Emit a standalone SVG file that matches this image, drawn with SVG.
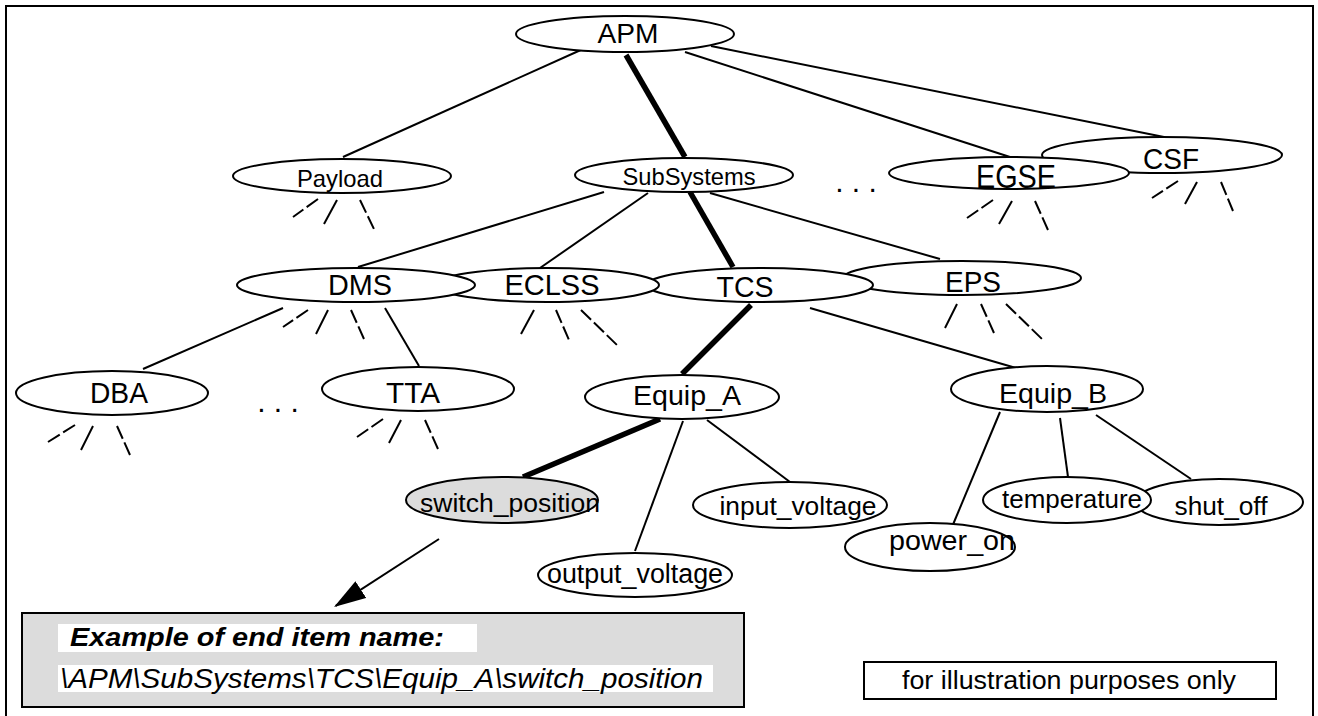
<svg xmlns="http://www.w3.org/2000/svg" width="1318" height="716" viewBox="0 0 1318 716">
<style>
.n ellipse{fill:#fff;stroke:#000;stroke-width:2}
.n ellipse.sel{fill:#dcdcdc}
text{font-family:"Liberation Sans",Arial,Helvetica,sans-serif;fill:#000}
.t{text-anchor:middle}
.c line{stroke:#000;stroke-width:2;fill:none}
.c line.k{stroke-width:5.5}
.c line.d{stroke-dasharray:14 4}
.dots{text-anchor:middle;font-size:30px}
</style>
<defs>
<marker id="ah" viewBox="0 0 32 20" refX="30" refY="10" markerWidth="32" markerHeight="20" markerUnits="userSpaceOnUse" orient="auto">
<path d="M0,0 L32,10 L0,20 z" fill="#000"/>
</marker>
</defs>
<rect width="1318" height="716" fill="#fff"/>
<path d="M6,720 V6 H1313 V720" fill="none" stroke="#000" stroke-width="2"/>

<g id="connectors" class="c">
<line x1="583" y1="49" x2="343" y2="157"/>
<line class="k" x1="626" y1="55" x2="685" y2="157"/>
<line x1="685" y1="52" x2="1010" y2="157"/>
<line x1="711" y1="46" x2="1164" y2="137"/>
<line x1="604" y1="192" x2="358" y2="267"/>
<line x1="648" y1="193" x2="540" y2="268"/>
<line class="k" x1="690" y1="192" x2="733" y2="267"/>
<line x1="710" y1="193" x2="940" y2="259"/>
<line x1="283" y1="308" x2="143" y2="369"/>
<line x1="385" y1="308" x2="419" y2="366"/>
<line class="k" x1="751" y1="305" x2="682" y2="374"/>
<line x1="810" y1="308" x2="1016" y2="368"/>
<line class="k" x1="660" y1="419" x2="523" y2="477"/>
<line x1="683" y1="421" x2="635" y2="551"/>
<line x1="707" y1="420" x2="790" y2="482"/>
<line x1="1000" y1="412" x2="952" y2="527"/>
<line x1="1060" y1="418" x2="1068" y2="477"/>
<line x1="1096" y1="415" x2="1191" y2="479"/>
<!-- stubs -->
<line class="d" x1="318" y1="199" x2="293" y2="217"/>
<line x1="337" y1="200" x2="324" y2="224"/>
<line class="d" x1="360" y1="200" x2="374" y2="229"/>
<line class="d" x1="993" y1="200" x2="967" y2="218"/>
<line x1="1012" y1="201" x2="999" y2="224"/>
<line class="d" x1="1035" y1="201" x2="1048" y2="230"/>
<line class="d" x1="1178" y1="181" x2="1152" y2="198"/>
<line x1="1197" y1="182" x2="1185" y2="204"/>
<line class="d" x1="1221" y1="182" x2="1233" y2="211"/>
<line class="d" x1="308" y1="310" x2="283" y2="327"/>
<line x1="328" y1="310" x2="316" y2="334"/>
<line class="d" x1="351" y1="310" x2="364" y2="339"/>
<line x1="534" y1="310" x2="521" y2="334"/>
<line class="d" x1="556" y1="310" x2="569" y2="340"/>
<line class="d" x1="581" y1="310" x2="617" y2="345"/>
<line x1="957" y1="304" x2="945" y2="328"/>
<line class="d" x1="981" y1="304" x2="994" y2="333"/>
<line class="d" x1="1006" y1="304" x2="1042" y2="339"/>
<line class="d" x1="75" y1="425" x2="48" y2="442"/>
<line x1="93" y1="426" x2="81" y2="450"/>
<line class="d" x1="117" y1="426" x2="130" y2="455"/>
<line class="d" x1="383" y1="419" x2="357" y2="437"/>
<line x1="401" y1="420" x2="389" y2="443"/>
<line class="d" x1="425" y1="420" x2="438" y2="449"/>
<!-- pointer -->
<line x1="439" y1="539" x2="335.7" y2="605.9" stroke-width="3" marker-end="url(#ah)"/>
</g>

<text class="dots" x="856" y="192">. . .</text>
<text class="dots" x="278" y="412">. . .</text>

<g id="node-apm" class="n"><ellipse cx="625" cy="34" rx="109" ry="18"/><text class="t" x="628" y="43" font-size="28" textLength="61" lengthAdjust="spacingAndGlyphs">APM</text></g>
<g id="node-payload" class="n"><ellipse cx="342" cy="176" rx="109" ry="17"/><text class="t" x="340" y="187" font-size="24" textLength="86" lengthAdjust="spacingAndGlyphs">Payload</text></g>
<g id="node-subsystems" class="n"><ellipse cx="684" cy="175" rx="109" ry="17"/><text class="t" x="689" y="185" font-size="24" textLength="133" lengthAdjust="spacingAndGlyphs">SubSystems</text></g>
<g id="node-csf" class="n"><ellipse cx="1162" cy="155" rx="120" ry="18"/><text class="t" x="1171" y="169" font-size="30" textLength="56" lengthAdjust="spacingAndGlyphs">CSF</text></g>
<g id="node-egse" class="n"><ellipse cx="1009" cy="173" rx="120" ry="16"/><text class="t" x="1016" y="188" font-size="33" textLength="80" lengthAdjust="spacingAndGlyphs">EGSE</text></g>
<g id="node-eps" class="n"><ellipse cx="962" cy="278" rx="119" ry="17"/><text class="t" x="973" y="292" font-size="29" textLength="56" lengthAdjust="spacingAndGlyphs">EPS</text></g>
<g id="node-tcs" class="n"><ellipse cx="760" cy="285" rx="113" ry="17"/><text class="t" x="745" y="297" font-size="29" textLength="57" lengthAdjust="spacingAndGlyphs">TCS</text></g>
<g id="node-eclss" class="n"><ellipse cx="547" cy="285" rx="112" ry="17"/><text class="t" x="552" y="295" font-size="29" textLength="95" lengthAdjust="spacingAndGlyphs">ECLSS</text></g>
<g id="node-dms" class="n"><ellipse cx="356" cy="285" rx="119" ry="17"/><text class="t" x="360" y="295" font-size="29" textLength="64" lengthAdjust="spacingAndGlyphs">DMS</text></g>
<g id="node-dba" class="n"><ellipse cx="112" cy="393" rx="96" ry="22"/><text class="t" x="119" y="403" font-size="29" textLength="58" lengthAdjust="spacingAndGlyphs">DBA</text></g>
<g id="node-tta" class="n"><ellipse cx="418" cy="389" rx="96" ry="22"/><text class="t" x="413" y="403" font-size="29" textLength="54" lengthAdjust="spacingAndGlyphs">TTA</text></g>
<g id="node-equip-a" class="n"><ellipse cx="682" cy="397" rx="97" ry="22"/><text class="t" x="687" y="405" font-size="28" textLength="108" lengthAdjust="spacingAndGlyphs">Equip_A</text></g>
<g id="node-equip-b" class="n"><ellipse cx="1047" cy="389" rx="96" ry="23"/><text class="t" x="1053" y="403" font-size="28" textLength="108" lengthAdjust="spacingAndGlyphs">Equip_B</text></g>
<g id="node-switch-position" class="n"><ellipse class="sel" cx="502" cy="500" rx="96" ry="23"/><text class="t" x="510" y="512" font-size="26" textLength="180" lengthAdjust="spacingAndGlyphs">switch_position</text></g>
<g id="node-input-voltage" class="n"><ellipse cx="790" cy="505" rx="97" ry="23"/><text class="t" x="798" y="515" font-size="26" textLength="157" lengthAdjust="spacingAndGlyphs">input_voltage</text></g>
<g id="node-output-voltage" class="n"><ellipse cx="635" cy="575" rx="97" ry="22"/><text class="t" x="635" y="583" font-size="27" textLength="176" lengthAdjust="spacingAndGlyphs">output_voltage</text></g>
<g id="node-shut-off" class="n"><ellipse cx="1219" cy="502" rx="84" ry="23"/><text class="t" x="1221" y="515" font-size="26" textLength="93" lengthAdjust="spacingAndGlyphs">shut_off</text></g>
<g id="node-temperature" class="n"><ellipse cx="1067" cy="500" rx="84" ry="23"/><text class="t" x="1072" y="508" font-size="26" textLength="140" lengthAdjust="spacingAndGlyphs">temperature</text></g>
<g id="node-power-on" class="n"><ellipse cx="930" cy="547" rx="85" ry="24"/><text class="t" x="952" y="550" font-size="28" textLength="126" lengthAdjust="spacingAndGlyphs">power_on</text></g>

<g id="example-box">
<rect x="22" y="613" width="722" height="94" fill="#dcdcdc" stroke="#000" stroke-width="2"/>
<rect x="58" y="624" width="419" height="28" fill="#fff"/>
<rect x="58" y="665" width="655" height="27" fill="#fff"/>
<text x="70" y="646" font-size="26" font-weight="bold" font-style="italic" textLength="374" lengthAdjust="spacingAndGlyphs">Example of end item name:</text>
<text x="60" y="688" font-size="28" font-style="italic" textLength="643" lengthAdjust="spacingAndGlyphs">\APM\SubSystems\TCS\Equip_A\switch_position</text>
</g>

<g id="note-box">
<rect x="864" y="662" width="412" height="37" fill="#fff" stroke="#000" stroke-width="2"/>
<text class="t" x="1069" y="689" font-size="26" textLength="334" lengthAdjust="spacingAndGlyphs">for illustration purposes only</text>
</g>
</svg>
